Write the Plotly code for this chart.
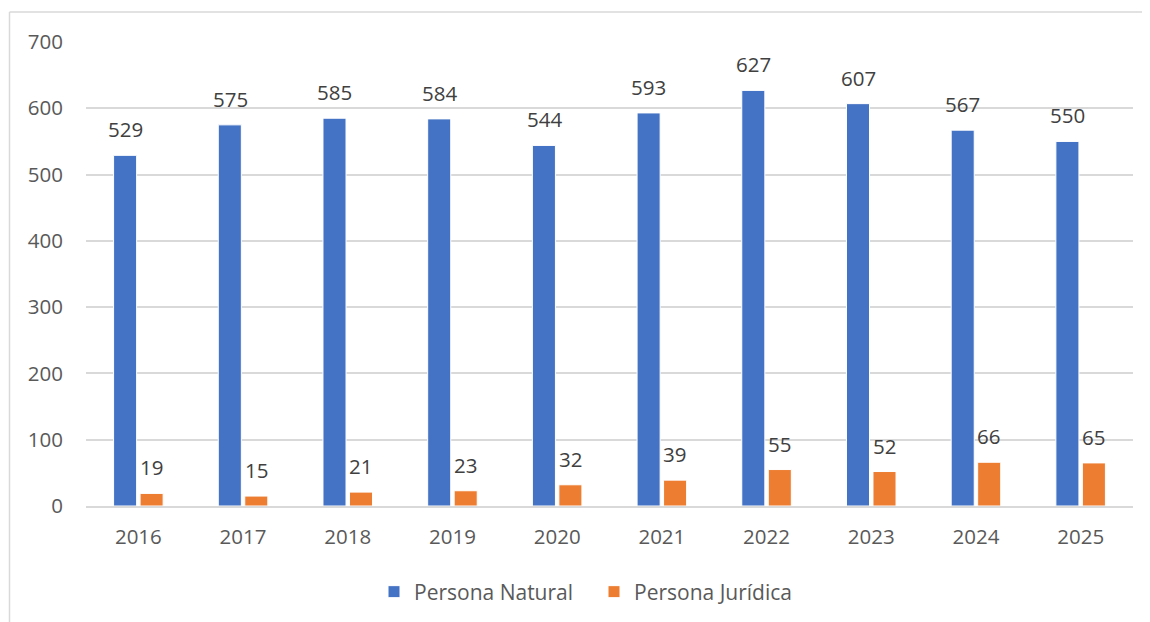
import plotly.graph_objects as go

years = ["2016", "2017", "2018", "2019", "2020", "2021", "2022", "2023", "2024", "2025"]
natural = [529, 575, 585, 584, 544, 593, 627, 607, 567, 550]
juridica = [19, 15, 21, 23, 32, 39, 55, 52, 66, 65]
y_ticks = [0, 100, 200, 300, 400, 500, 600, 700]

BLUE = "#4472C4"
ORANGE = "#ED7D31"
TEXT = "#595959"
LABEL = "#404040"
GRID = "#D9D9D9"
FONT = "Open Sans"

OFF = 8
W, H = 1150, 622
L, R, T, B = 86 - OFF, 17 + OFF, 42 - OFF, 116 + OFF
pw = W - L - R
ph = H - T - B

fig = go.Figure()
fig.add_trace(go.Bar(x=years, y=natural, name="Persona Natural",
                     marker=dict(color=BLUE, line=dict(color="white", width=1))))
fig.add_trace(go.Bar(x=years, y=juridica, name="Persona Jurídica",
                     marker=dict(color=ORANGE, line=dict(color="white", width=1))))

# data labels: category index positions, shifted to each bar of the group
slot = round(pw / len(years) * 0.506 / 2)
for xs, vals in ((-slot / 2, natural), (slot / 2, juridica)):
    for i, v in enumerate(vals):
        fig.add_annotation(x=i, y=v, xref="x", yref="y", text=str(v), showarrow=False,
                           xshift=xs, yshift=26, yanchor="middle",
                           font=dict(family=FONT, size=20.5, color=LABEL))

def px_x(p):
    return (p - OFF - L) / pw

def px_y(p):
    return (H - B - (p - OFF)) / ph

fig.add_shape(type="line", xref="paper", yref="paper",
              x0=px_x(9.5), x1=px_x(1170), y0=px_y(12), y1=px_y(12),
              line=dict(color=GRID, width=1.5))
fig.add_shape(type="line", xref="paper", yref="paper",
              x0=px_x(9.5), x1=px_x(9.5), y0=px_y(12), y1=px_y(660),
              line=dict(color=GRID, width=1.5))

fig.update_layout(
    width=W, height=H,
    margin=dict(l=L, r=R, t=T, b=B),
    paper_bgcolor="white", plot_bgcolor="white",
    barmode="group", bargap=0.494, bargroupgap=0.13,
    font=dict(family=FONT, size=20.5, color=TEXT),
    showlegend=True,
    legend=dict(orientation="h", x=px_x(594), xanchor="center",
                y=px_y(592), yanchor="middle", entrywidth=175,
                font=dict(family=FONT, size=21, color=TEXT)),
)
fig.update_xaxes(type="category", range=[-0.5, len(years) - 0.5],
                 showgrid=False, ticks="outside", ticklen=12,
                 tickcolor="rgba(0,0,0,0)",
                 tickfont=dict(family=FONT, size=20.5, color=TEXT),
                 showline=True, linecolor=GRID, linewidth=1.5)
fig.update_yaxes(range=[0, 700], tickvals=y_ticks, showgrid=True, gridcolor=GRID,
                 gridwidth=1.5, zeroline=False, ticks="outside", ticklen=18,
                 tickcolor="rgba(0,0,0,0)",
                 tickfont=dict(family=FONT, size=20.5, color=TEXT))

fig.write_html("out.html")
